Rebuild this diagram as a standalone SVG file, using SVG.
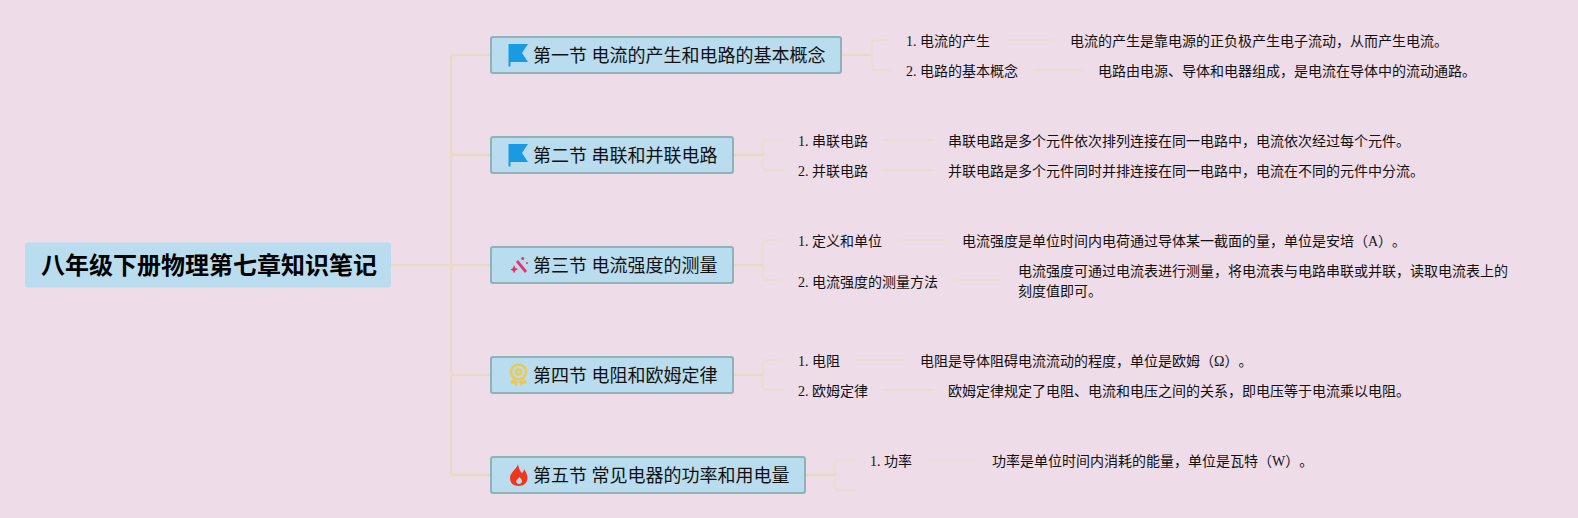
<svg xmlns="http://www.w3.org/2000/svg" width="1578" height="518" viewBox="0 0 1578 518">
<style>
text{font-family:"Liberation Serif","Noto Sans CJK SC",serif;fill:#111;text-spacing-trim:space-all}
.root{font-size:24px;font-weight:700;fill:#000}
.sec{font-size:18px}
.leaf{font-size:14px}
.nb{fill:#b9dcee;stroke:#8db3b8;stroke-width:2}
.c1{fill:none;stroke:#e9d9c6;stroke-width:2.500}
.c2{fill:none;stroke:#ecdcd3;stroke-width:2}
.c3{fill:none;stroke:#ecdcd3;stroke-width:2}
</style>
<defs>
<path id="flag" d="M508.500 44H528L522 53L528 62H510.500V66.500H508.500Z" fill="#1b9ae4"/>
</defs>
<rect width="1578" height="518" fill="#eedce9"/>
<g id="connectors">
<path class="c1" d="M390 265H490M451 265V58Q451 55 454 55H490M451 155H490M451 265V472Q451 475 454 475H490M451 375H490"/>
<path class="c1" d="M842 55H872M733 155H763M733 265H763M733 375H763M805 475H835"/>
<path class="c2" d="M891 40H875Q872 40 872 43V67Q872 70 875 70H891"/>
<path class="c2" d="M783 140H766Q763 140 763 143V167Q763 170 766 170H783"/>
<path class="c2" d="M783 240H766Q763 240 763 243V277Q763 280 766 280H783"/>
<path class="c2" d="M783 360H766Q763 360 763 363V387Q763 390 766 390H783"/>
<path class="c2" d="M855 460H838Q835 460 835 463V487Q835 490 838 490H855"/>
<path class="c3" d="M1006 40H1055M1034 70H1083M884 140H933M882 170H933M897 240H947M953 280H1003M856 360H904M883 390H933M929 460H976"/>
</g>
<g id="root">
<rect x="25" y="242.500" width="366" height="45" rx="3" fill="#b9dcee"/>
<text class="root" x="41" y="274">八年级下册物理第七章知识笔记</text>
</g>
<g id="s1">
<rect class="nb" x="491" y="37" width="350" height="36" rx="2"/>
<use href="#flag"/>
<text class="sec" x="533" y="62">第一节 电流的产生和电路的基本概念</text>
</g>
<g id="s2">
<rect class="nb" x="491" y="137" width="242" height="36" rx="2"/>
<use href="#flag" y="100"/>
<text class="sec" x="533" y="162">第二节 串联和并联电路</text>
</g>
<g id="s3">
<rect class="nb" x="491" y="247" width="242" height="36" rx="2"/>
<g fill="#e6306f">
<path d="M516 262L518 260L527 271L525 273Z"/>
<circle cx="522.700" cy="258.500" r="1.500"/>
<circle cx="527" cy="263" r="1"/>
<path d="M510.500 269.500L513 268L514 265L515.500 268L518 269L515.500 270.500L514 273.500L513 271Z"/>
</g>
<text class="sec" x="533" y="272">第三节 电流强度的测量</text>
</g>
<g id="s4">
<rect class="nb" x="491" y="357" width="242" height="36" rx="2"/>
<g fill="none" stroke="#edc94f" stroke-width="2.500">
<circle cx="518.500" cy="372" r="7.500"/>
<circle cx="518.500" cy="372" r="2.500"/>
</g>
<path d="M512 379L510 384L514 383.500L516 386.500L518.500 381.500L521 386.500L523 383.500L527 384L525 379L518.500 382Z" fill="#edc94f"/>
<text class="sec" x="533" y="382">第四节 电阻和欧姆定律</text>
</g>
<g id="s5">
<rect class="nb" x="491" y="457" width="314" height="36" rx="2"/>
<path fill-rule="evenodd" d="M518 464C519 469 520 471 522 473C523 472 524 471 524 469C526 472 527.500 475 527.500 478C527.500 483 523.500 486 518.500 486C513.500 486 510 483 510 478C510 474 513 472 515 469C516.500 467.500 517.500 466 518 464ZM519 484C521 484 522 482.500 522 481C522 479.500 520.500 478.500 519.500 477C519 478.500 516.500 479.500 516 481C516 482.500 517.500 484 519 484Z" fill="#f0361c"/>
<text class="sec" x="533" y="482">第五节 常见电器的功率和用电量</text>
</g>
<g id="l11"><text class="leaf" x="906" y="46">1. 电流的产生</text></g>
<g id="d11"><text class="leaf" x="1070" y="46">电流的产生是靠电源的正负极产生电子流动，从而产生电流。</text></g>
<g id="l12"><text class="leaf" x="906" y="76">2. 电路的基本概念</text></g>
<g id="d12"><text class="leaf" x="1098" y="76">电路由电源、导体和电器组成，是电流在导体中的流动通路。</text></g>
<g id="l21"><text class="leaf" x="798" y="146">1. 串联电路</text></g>
<g id="d21"><text class="leaf" x="948" y="146">串联电路是多个元件依次排列连接在同一电路中，电流依次经过每个元件。</text></g>
<g id="l22"><text class="leaf" x="798" y="176">2. 并联电路</text></g>
<g id="d22"><text class="leaf" x="948" y="176">并联电路是多个元件同时并排连接在同一电路中，电流在不同的元件中分流。</text></g>
<g id="l31"><text class="leaf" x="798" y="246">1. 定义和单位</text></g>
<g id="d31"><text class="leaf" x="962" y="246">电流强度是单位时间内电荷通过导体某一截面的量，单位是安培（A）。</text></g>
<g id="l32"><text class="leaf" x="798" y="287">2. 电流强度的测量方法</text></g>
<g id="d32"><text class="leaf" x="1018" y="276">电流强度可通过电流表进行测量，将电流表与电路串联或并联，读取电流表上的</text><text class="leaf" x="1018" y="296">刻度值即可。</text></g>
<g id="l41"><text class="leaf" x="798" y="366">1. 电阻</text></g>
<g id="d41"><text class="leaf" x="920" y="366">电阻是导体阻碍电流流动的程度，单位是欧姆（Ω）。</text></g>
<g id="l42"><text class="leaf" x="798" y="396">2. 欧姆定律</text></g>
<g id="d42"><text class="leaf" x="948" y="396">欧姆定律规定了电阻、电流和电压之间的关系，即电压等于电流乘以电阻。</text></g>
<g id="l51"><text class="leaf" x="870" y="466">1. 功率</text></g>
<g id="d51"><text class="leaf" x="992" y="466">功率是单位时间内消耗的能量，单位是瓦特（W）。</text></g>
</svg>
